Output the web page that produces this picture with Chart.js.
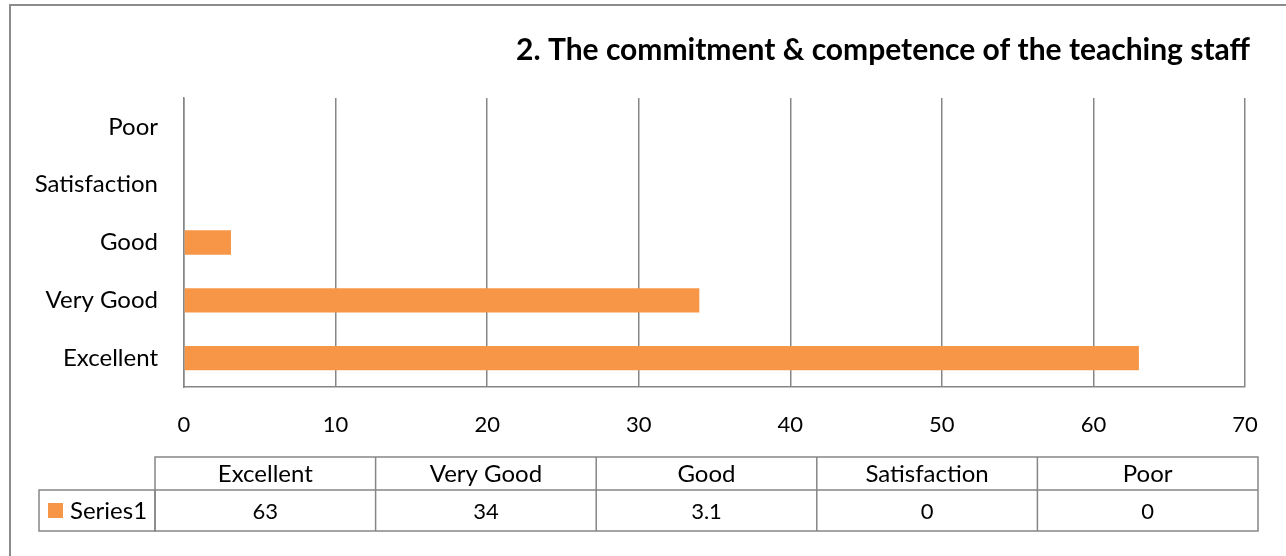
<!DOCTYPE html>
<html>
<head>
<meta charset="utf-8">
<script src="https://cdn.jsdelivr.net/npm/chart.js@4.4.1/dist/chart.umd.min.js"></script>
<style>
  html, body { margin: 0; padding: 0; background: #fff; }
  canvas { display: block; }
</style>
</head>
<body>
<canvas id="myChart" width="1286" height="556"></canvas>
<script>
// data
const categories = ['Excellent', 'Very Good', 'Good', 'Satisfaction', 'Poor'];
const seriesName = 'Series1';
const values = [63, 34, 3.1, 0, 0];
const xTicks = [0, 10, 20, 30, 40, 50, 60, 70];
const chartTitle = '2. The commitment & competence of the teaching staff';

const barColor = '#F79646';
const lineColor = '#868686';
const fontFamily = 'Lato, "Noto Sans", sans-serif';

// frame, title and the data table under the axis
const extras = {
    id: 'extras',
    afterDraw(chart) {
        const ctx = chart.ctx;
        ctx.save();

        // outer frame (top and left edge visible)
        ctx.strokeStyle = '#8c8c8c';
        ctx.lineWidth = 2;
        ctx.beginPath();
        ctx.moveTo(10, 560);
        ctx.lineTo(10, 5);
        ctx.lineTo(1290, 5);
        ctx.stroke();

        // title
        ctx.fillStyle = '#000';
        ctx.font = 'bold 30px ' + fontFamily;
        ctx.textAlign = 'right';
        ctx.textBaseline = 'middle';
        ctx.fillText(chartTitle, 1250, 50);

        // data table
        const left = 155, right = 1258;
        const top = 457, mid = 490, bottom = 531;
        const colW = (right - left) / categories.length;
        ctx.strokeStyle = lineColor;
        ctx.lineWidth = 1.5;
        ctx.strokeRect(left, top, right - left, bottom - top);
        ctx.strokeRect(39, mid, left - 39, bottom - mid);
        ctx.beginPath();
        ctx.moveTo(left, mid);
        ctx.lineTo(right, mid);
        for (let i = 1; i < categories.length; i++) {
            ctx.moveTo(left + colW * i, top);
            ctx.lineTo(left + colW * i, bottom);
        }
        ctx.stroke();

        ctx.textAlign = 'center';
        ctx.fillStyle = '#000';
        categories.forEach((c, i) => {
            const cx = left + colW * (i + 0.5);
            ctx.font = '24px ' + fontFamily;
            ctx.fillText(c, cx, (top + mid) / 2 + 1);
            ctx.font = '22px ' + fontFamily;
            ctx.fillText(String(values[i]), cx, (mid + bottom) / 2 + 1);
        });

        // legend key
        ctx.fillStyle = barColor;
        ctx.fillRect(48, 503, 15, 15);
        ctx.fillStyle = '#000';
        ctx.textAlign = 'left';
        ctx.font = '24px ' + fontFamily;
        ctx.fillText(seriesName, 70, (mid + bottom) / 2 + 1);

        ctx.restore();
    }
};

const ctx = document.getElementById('myChart').getContext('2d');
new Chart(ctx, {
    type: 'bar',
    data: {
        labels: categories,
        datasets: [{
            label: seriesName,
            data: values,
            backgroundColor: barColor,
            barPercentage: 0.42,
            categoryPercentage: 1
        }]
    },
    options: {
        indexAxis: 'y',
        responsive: false,
        animation: false,
        devicePixelRatio: 1,
        layout: {
            padding: { top: 98, right: 41, bottom: 0, left: 0 }
        },
        plugins: {
            legend: { display: false },
            title: { display: false },
            tooltip: { enabled: false }
        },
        scales: {
            x: {
                min: xTicks[0],
                max: xTicks[xTicks.length - 1],
                afterFit: (s) => { s.height = 169; },
                afterBuildTicks: (s) => { s.ticks = xTicks.map(v => ({ value: v })); },
                grid: { color: lineColor, lineWidth: 1.5, drawTicks: false },
                border: { color: lineColor, width: 1.5 },
                ticks: {
                    padding: 25,
                    color: '#000',
                    font: { family: fontFamily, size: 22 }
                }
            },
            y: {
                reverse: true,
                afterFit: (s) => { s.width = 184; },
                grid: { display: false, drawTicks: false },
                border: { color: lineColor, width: 1.5 },
                ticks: {
                    padding: 26,
                    color: '#000',
                    font: { family: fontFamily, size: 24 }
                }
            }
        }
    },
    plugins: [extras]
});
</script>
</body>
</html>
